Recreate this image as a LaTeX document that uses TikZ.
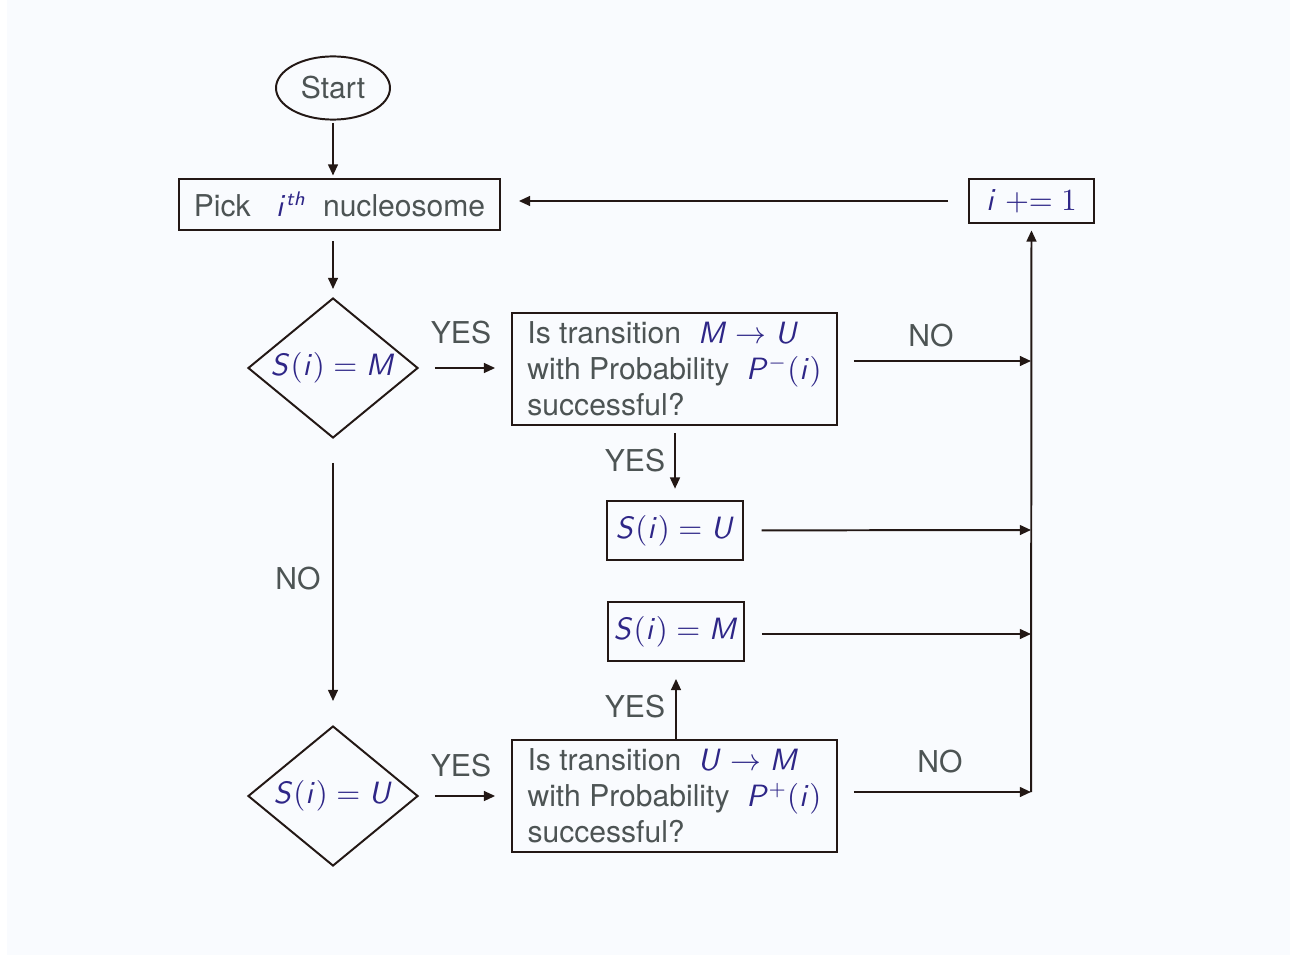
\documentclass[tikz,border=0pt]{standalone}
\usepackage[no-math]{fontspec}
\setmainfont{TeX Gyre Heros}
\usepackage{tikz}
\usetikzlibrary{shapes.geometric,arrows.meta}

\SetSymbolFont{letters}{normal}{OT1}{cmss}{m}{sl}

\definecolor{bgcol}{RGB}{249,251,254}
\definecolor{txtcol}{RGB}{77,84,84}
\definecolor{mathcol}{RGB}{46,38,135}
\definecolor{linecol}{RGB}{35,24,21}

\newcommand{\mth}[1]{{\color{mathcol}$#1$}}

\begin{document}
\begin{tikzpicture}[x=0.125mm, y=-0.125mm,
		font=\fontsize{10.7}{12.8}\selectfont,
		every node/.style={text=txtcol},
		box/.style={draw=linecol, line width=0.7pt, rectangle, inner sep=0pt},
		ques/.style={draw=linecol, line width=0.7pt, diamond, aspect=1.21, minimum width=21.25mm, minimum height=17.5mm, inner sep=0pt},
		arr/.style={draw=linecol, line width=0.7pt, -{Triangle[length=4pt,width=3.5pt]}},
		gap/.style 2 args={shorten <=#1, shorten >=#2}]
		\useasboundingbox (0,0) rectangle (1301,958);
		\fill[white] (0,0) rectangle (1301,958);
		\fill[bgcol] (7,0) rectangle (1290,955);

		% nodes
		\node[draw=linecol, line width=0.7pt, ellipse, minimum width=14.25mm, minimum height=7.9mm, inner sep=0pt] (start) at (333,88) {Start};
		\node[box, minimum width=40.1mm, minimum height=6.4mm] (pick) at (339.5,204.5) {Pick \ \ \mth{i^{th}} \ nucleosome};
		\node[box, minimum width=15.6mm, minimum height=5.5mm] (inc) at (1031.5,201) {\mth{i \mathrel{+}= 1}};

		\node[ques] (qm) at (333,368) {\mth{S(i) = M}};
		\node[box, align=left, minimum width=40.6mm, minimum height=14mm] (tmu) at (674.5,369)
			{Is transition \ \mth{M \to U}\\with Probability \ \mth{P^{-}(i)}\\successful?};
		\node[box, minimum width=17mm, minimum height=7.4mm] (su) at (675,530.5) {\mth{S(i) = U}};
		\node[box, minimum width=17mm, minimum height=7.4mm] (sm) at (676,631.5) {\mth{S(i) = M}};
		\node[ques] (qu) at (333,796) {\mth{S(i) = U}};
		\node[box, align=left, minimum width=40.6mm, minimum height=14mm] (tum) at (674.5,796)
			{Is transition \ \mth{U \to M}\\with Probability \ \mth{P^{+}(i)}\\successful?};

		% junctions on the return line
		\coordinate (j1) at (1031,361);
		\coordinate (j2) at (1031,530);
		\coordinate (j3) at (1031,634);
		\coordinate (j4) at (1031,792);

		% labels
		\node (yes1) at (461,333) {YES};
		\node (no1) at (931,336) {NO};
		\node (yes2) at (635,461) {YES};
		\node (no2) at (298,579) {NO};
		\node (yes3) at (635,707) {YES};
		\node (yes4) at (461,766) {YES};
		\node (no3) at (940,762) {NO};

		% connectors
		\draw[arr, gap={0.3mm}{0.3mm}] (start) -- (pick.north -| start);
		\draw[arr, gap={1.25mm}{1mm}] (pick.south -| start) -- (qm);
		\draw[arr, gap={2mm}{2mm}] (qm) -- (tmu.west |- qm);
		\draw[arr, gap={3mm}{3mm}] (qm) -- (qu);
		\draw[arr, gap={2mm}{2mm}] (qu) -- (tum.west |- qu);
		\draw[arr, gap={2mm}{0mm}] (tmu.east |- j1) -- (j1);
		\draw[arr, gap={0.9mm}{1.4mm}] (tmu.south -| su) -- (su);
		\draw[arr, gap={2.2mm}{0mm}] (su) -- (j2);
		\draw[arr, gap={2.1mm}{0mm}] (sm.east |- j3) -- (j3);
		\draw[arr, gap={0mm}{2.1mm}] (tum.north -| sm) -- (sm);
		\draw[arr, gap={2mm}{0mm}] (tum.east |- j4) -- (j4);
		\draw[arr, gap={0mm}{0.8mm}] (j4) -- (inc);
		\draw[arr, gap={2.5mm}{2.25mm}] (inc) -- (pick.east |- inc);
	\end{tikzpicture}
\end{document}
